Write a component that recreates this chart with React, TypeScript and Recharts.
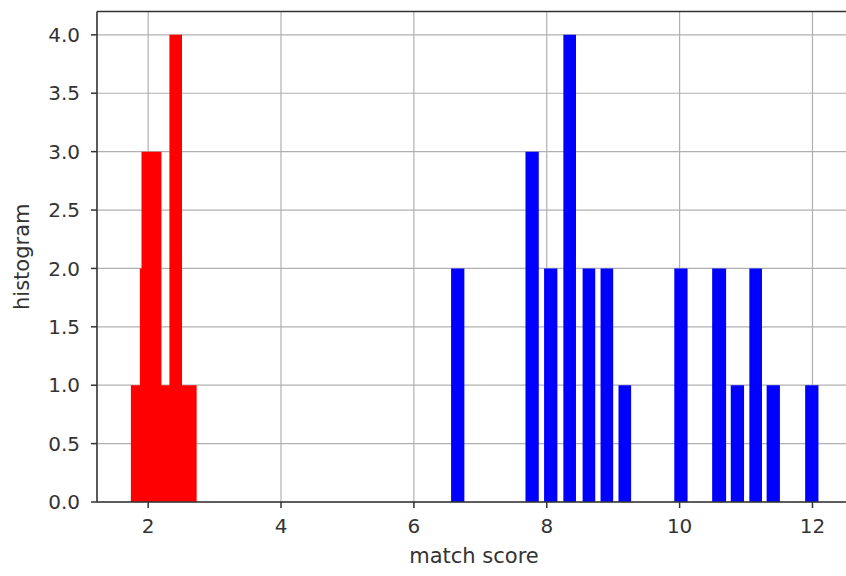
import React from 'react'
import { ComposedChart, Area, XAxis, YAxis, CartesianGrid, ReferenceLine } from 'recharts'

// histogram bins: left edge, right edge, count
const redLeft = [1.74, 1.875, 1.9, 2.2, 2.32, 2.51];
const redRight = [1.875, 1.9, 2.2, 2.32, 2.51, 2.73];
const redCount = [1, 2, 3, 1, 4, 1];

const blueLeft = [6.56, 7.68, 7.96, 8.25, 8.54, 8.81, 9.08, 9.92, 10.49, 10.77, 11.05, 11.31, 11.89];
const blueRight = [6.76, 7.88, 8.16, 8.44, 8.73, 9.0, 9.27, 10.12, 10.7, 10.97, 11.24, 11.51, 12.09];
const blueCount = [2, 3, 2, 4, 2, 2, 1, 2, 2, 1, 2, 1, 1];

const xTicks = [2, 4, 6, 8, 10, 12];
const yTicks = [0, 0.5, 1, 1.5, 2, 2.5, 3, 3.5, 4];

interface StepPoint {
  x: number;
  y: number;
}

// turn bins into step points (bin start at its count, drop to 0 at its end)
const toSteps = (left: number[], right: number[], count: number[]): StepPoint[] => {
  const pts: StepPoint[] = [];
  left.forEach((l, i) => {
    pts.push({ x: l, y: count[i] });
    if (i === left.length - 1 || right[i] !== left[i + 1]) {
      pts.push({ x: right[i], y: 0 });
    }
  });
  return pts;
};

const redData = toSteps(redLeft, redRight, redCount);
const blueData = toSteps(blueLeft, blueRight, blueCount);

const FONT = 'DejaVu Sans';
const INK = '#333333';

const App: React.FC = () => {
  return (
    <div style={{ position: 'absolute', left: 0, top: 0, width: 846, height: 576, overflow: 'hidden', background: '#fff' }}>
      <ComposedChart width={851} height={576} margin={{ top: 11.5, right: 0, bottom: 0, left: 0 }}>
        <XAxis
          type="number"
          dataKey="x"
          domain={[1.23, 12.58]}
          ticks={xTicks}
          allowDataOverflow
          height={74}
          tickSize={6}
          tickMargin={11}
          axisLine={{ stroke: INK, strokeWidth: 1.5 }}
          tickLine={{ stroke: INK, strokeWidth: 1.5 }}
          tick={{ fill: INK, fontSize: 20, fontFamily: FONT }}
          label={{ value: 'match score', position: 'insideBottom', offset: 13, fill: INK, fontSize: 21, fontFamily: FONT }}
        />
        <YAxis
          type="number"
          domain={[0, 4.2]}
          ticks={yTicks}
          allowDataOverflow
          width={97}
          tickSize={6}
          tickMargin={11}
          tickFormatter={(v: number) => v.toFixed(1)}
          axisLine={{ stroke: INK, strokeWidth: 1.5 }}
          tickLine={{ stroke: INK, strokeWidth: 1.5 }}
          tick={{ fill: INK, fontSize: 20, fontFamily: FONT }}
          label={{ value: 'histogram', angle: -90, position: 'insideLeft', offset: 22, fill: INK, fontSize: 21, fontFamily: FONT, style: { textAnchor: 'middle' } }}
        />
        <Area
          data={redData}
          dataKey="y"
          type="stepAfter"
          baseValue={0}
          fill="#ff0000"
          fillOpacity={1}
          stroke="none"
          dot={false}
          activeDot={false}
          isAnimationActive={false}
        />
        <Area
          data={blueData}
          dataKey="y"
          type="stepAfter"
          baseValue={0}
          fill="#0000ff"
          fillOpacity={1}
          stroke="none"
          dot={false}
          activeDot={false}
          isAnimationActive={false}
        />
        <CartesianGrid stroke="#b0b0b0" strokeWidth={1.2} />
        <ReferenceLine y={4.2} stroke={INK} strokeWidth={1.5} />
      </ComposedChart>
    </div>
  )
}

export default App
